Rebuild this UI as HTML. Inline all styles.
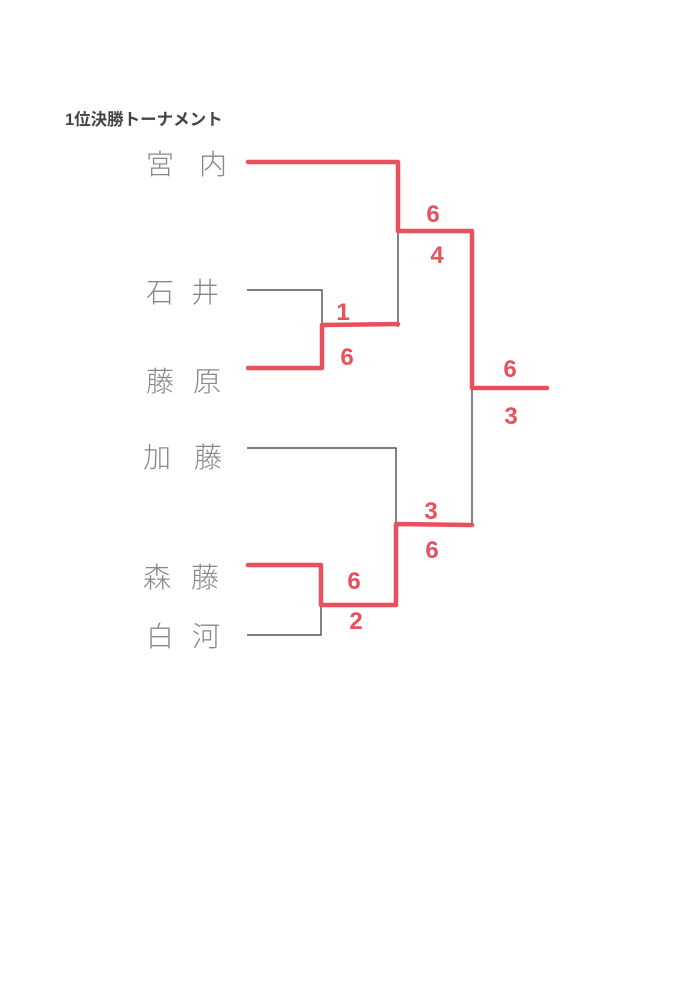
<!DOCTYPE html>
<html><head><meta charset="utf-8"><style>
html,body{margin:0;padding:0;background:#fff;}
svg{display:block;}
</style></head><body>
<svg width="700" height="989" viewBox="0 0 700 989" xmlns="http://www.w3.org/2000/svg">
<rect width="700" height="989" fill="#fff"/>
<text x="65" y="125" font-family="Liberation Sans, Noto Sans CJK JP, sans-serif" font-size="16.5" font-weight="bold" fill="#444">1位決勝トーナメント</text>
<g font-family="Noto Sans CJK JP, sans-serif" font-size="28" fill="#888" font-weight="300" text-anchor="middle">
<text x="160" y="174">宮</text><text x="213" y="174">内</text>
<text x="160" y="302">石</text><text x="205" y="302">井</text>
<text x="160" y="391">藤</text><text x="207" y="391">原</text>
<text x="157" y="467">加</text><text x="208" y="467">藤</text>
<text x="157" y="587">森</text><text x="205" y="587">藤</text>
<text x="160" y="646">白</text><text x="206" y="646">河</text>
</g>
<g stroke="#333" stroke-width="1.2" fill="none">
<polyline points="247,290 322,290 322,327"/>
<line x1="398" y1="231" x2="398" y2="327"/>
<polyline points="247,448 396,448 396,524"/>
<line x1="472" y1="388" x2="472" y2="527"/>
<polyline points="247,635 321,635 321,605"/>
</g>
<g stroke="#e8505e" stroke-width="4.5" fill="none" stroke-linecap="round" stroke-linejoin="round">
<polyline points="248,162 398,162 398,231 472,231 472,388 547,388"/>
<polyline points="248,368 322,368 322,325 398,324"/>
<polyline points="248,565 321,565 321,605 396,605 396,524 472,525"/>
</g>
<g font-family="Liberation Sans, sans-serif" font-size="24" font-weight="bold" fill="#e8505e" text-anchor="middle">
<text x="433" y="222">6</text><text x="437" y="263">4</text>
<text x="343" y="320">1</text><text x="347" y="365">6</text>
<text x="510" y="377">6</text><text x="511" y="424">3</text>
<text x="431" y="519">3</text><text x="432" y="558">6</text>
<text x="354" y="589">6</text><text x="356" y="629">2</text>
</g>
</svg>
</body></html>
